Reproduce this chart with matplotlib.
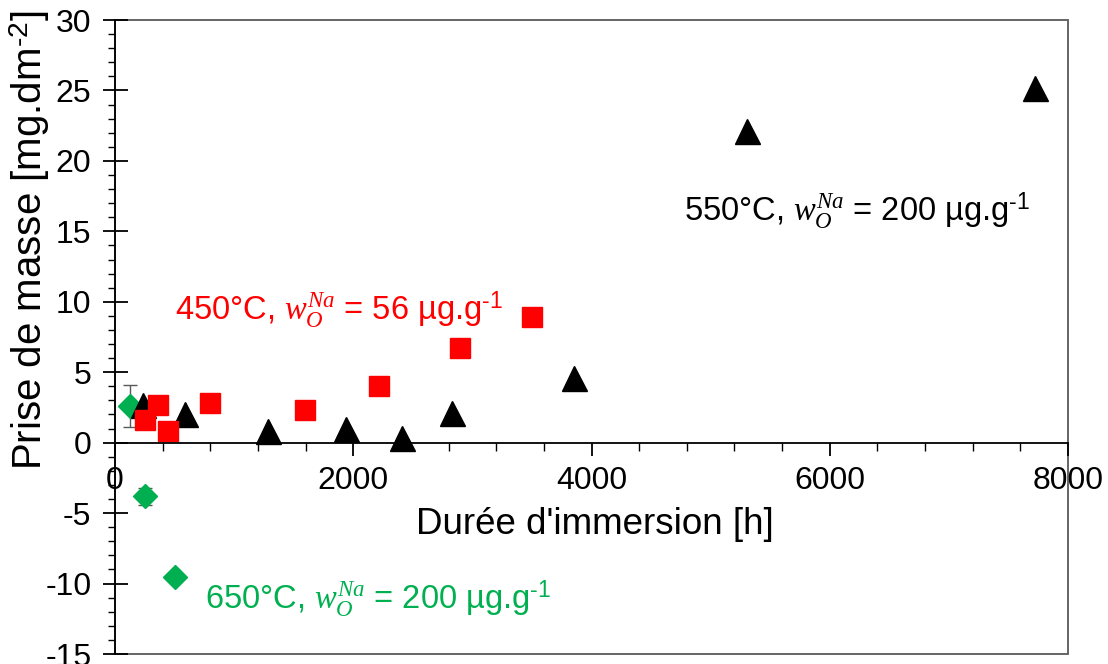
import matplotlib
matplotlib.use("Agg")
import matplotlib.pyplot as plt
from matplotlib.ticker import MultipleLocator
from matplotlib.patches import Rectangle

plt.rcParams['font.family'] = ['Liberation Sans', 'DejaVu Sans']
plt.rcParams['mathtext.fontset'] = 'custom'
plt.rcParams['mathtext.rm'] = 'Liberation Sans'
plt.rcParams['mathtext.it'] = 'Liberation Serif:italic'
plt.rcParams['mathtext.bf'] = 'Liberation Sans:bold'
plt.rcParams['axes.unicode_minus'] = False

# 550 °C, 200 µg/g (black triangles)
t550 = [235, 588, 1286, 1941, 2412, 2832, 3849, 5302, 7722]
m550 = [2.7, 2.0, 0.8, 1.0, 0.35, 2.1, 4.6, 22.1, 25.2]

# 450 °C, 56 µg/g (red squares)
t450 = [252, 361, 445, 798, 1597, 2218, 2899, 3504]
m450 = [1.6, 2.7, 0.8, 2.8, 2.3, 4.0, 6.7, 8.9]

# 650 °C, 200 µg/g (green diamonds with error bars)
t650 = [126, 252, 504]
m650 = [2.6, -3.8, -9.5]
e650 = [1.5, 0.6, 0.25]

xticks = [0, 2000, 4000, 6000, 8000]
yticks = [-15, -10, -5, 0, 5, 10, 15, 20, 25, 30]

fig = plt.figure(figsize=(11.08, 6.64), dpi=100)
ax = fig.add_axes([115/1108, 1-654/664, (1068-115)/1108, (654-20)/664])

ax.errorbar(t650, m650, yerr=e650, fmt='D', color='#00B050', ms=12,
            ecolor='#595959', elinewidth=1, capsize=5, capthick=1, zorder=2)
ax.plot(t550, m550, '^', color='black', ms=18, zorder=3, linestyle='none')
ax.plot(t450, m450, 's', color='#FF0000', ms=15, zorder=4, linestyle='none')

ax.set_xlim(0, 8000)
ax.set_ylim(-15, 30)
ax.set_xticks(xticks)
ax.set_yticks(yticks)
ax.xaxis.set_minor_locator(MultipleLocator(400))
ax.yaxis.set_minor_locator(MultipleLocator(1))

# gray plot-area frame
ax.add_patch(Rectangle((0, 0), 1, 1, transform=ax.transAxes, fill=False,
                       edgecolor='#595959', linewidth=1.3, clip_on=False,
                       zorder=1))

ax.spines['top'].set_visible(False)
ax.spines['right'].set_visible(False)
ax.spines['bottom'].set_position(('data', 0))
for s in ('left', 'bottom'):
    ax.spines[s].set_linewidth(1.3)
    ax.spines[s].set_zorder(5)

ax.tick_params(axis='y', which='major', direction='inout', length=18,
               width=1.3, labelsize=23, pad=8)
ax.tick_params(axis='y', which='minor', direction='out', length=5, width=1.0)
ax.tick_params(axis='x', which='major', direction='out', length=9,
               width=1.3, labelsize=23, pad=8)
ax.tick_params(axis='x', which='minor', direction='out', length=6, width=1.0)

ax.set_xlabel("Durée d'immersion [h]", fontsize=26.5)
ax.set_ylabel(r"Prise de masse [mg.dm$^{\text{-2}}$]", fontsize=29)
ax.xaxis.set_label_coords(0.504, 0.232)
ax.yaxis.set_label_coords(-0.066, 0.653)

ann = r"$w_O^{Na}$"
sup = r"$^{\text{-1}}$"
ax.text(4773, 16.4, "550°C, " + ann + " = 200 µg.g" + sup, fontsize=23.5,
        color='black', ha='left', va='center')
ax.text(504, 9.4, "450°C, " + ann + " = 56 µg.g" + sup, fontsize=23.5,
        color='#FF0000', ha='left', va='center')
ax.text(756, -11.1, "650°C, " + ann + " = 200 µg.g" + sup, fontsize=23.5,
        color='#00B050', ha='left', va='center')

fig.savefig("out.png", dpi=100)
